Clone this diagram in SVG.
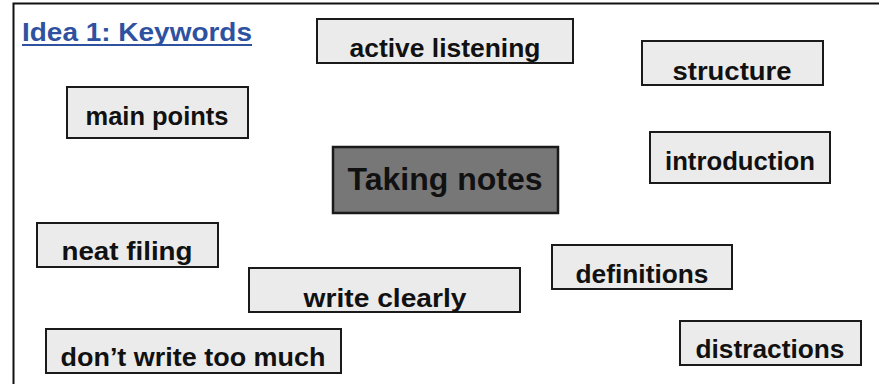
<svg xmlns="http://www.w3.org/2000/svg" width="879" height="384" viewBox="0 0 879 384">
<style>
.box{fill:#ebebeb;stroke:#1a1a1a;stroke-width:2}
.t{font-family:"Liberation Sans",Arial,sans-serif;font-weight:bold;font-size:26px;fill:#111;text-anchor:middle}
.c{fill:#777;stroke:#1a1a1a;stroke-width:2.5}
.ct{font-family:"Liberation Sans",Arial,sans-serif;font-weight:bold;font-size:32px;fill:#111;text-anchor:middle}
.title{font-family:"Liberation Sans",Arial,sans-serif;font-weight:bold;font-size:26px;fill:#2f52a0}
</style>
<rect width="879" height="384" fill="#fff"/>
<path d="M13.5 384 V3.5 H879" fill="none" stroke="#111" stroke-width="2"/>
<g id="title">
<text class="title" x="22" y="41" textLength="230" lengthAdjust="spacingAndGlyphs">Idea 1: Keywords</text>
<rect x="22" y="44" width="230" height="2" fill="#2f52a0"/>
</g>
<g id="connectors"></g>
<g id="active-listening"><rect class="box" x="317" y="19" width="256" height="44"/><text class="t" x="445" y="57" textLength="191" lengthAdjust="spacingAndGlyphs">active listening</text></g>
<g id="structure"><rect class="box" x="642" y="41" width="181" height="44"/><text class="t" x="732" y="80" textLength="119" lengthAdjust="spacingAndGlyphs">structure</text></g>
<g id="main-points"><rect class="box" x="67" y="87" width="181" height="51"/><text class="t" x="157" y="125" textLength="143" lengthAdjust="spacingAndGlyphs">main points</text></g>
<g id="introduction"><rect class="box" x="650" y="132" width="180" height="51"/><text class="t" x="740" y="170" textLength="150" lengthAdjust="spacingAndGlyphs">introduction</text></g>
<g id="taking-notes"><rect class="c" x="333" y="147" width="225" height="66"/><text class="ct" x="445" y="190" textLength="195" lengthAdjust="spacingAndGlyphs">Taking notes</text></g>
<g id="neat-filing"><rect class="box" x="37" y="223" width="181" height="44"/><text class="t" x="127" y="260" textLength="131" lengthAdjust="spacingAndGlyphs">neat filing</text></g>
<g id="definitions"><rect class="box" x="552" y="245" width="180" height="44"/><text class="t" x="642" y="283" textLength="133" lengthAdjust="spacingAndGlyphs">definitions</text></g>
<g id="write-clearly"><rect class="box" x="249" y="268" width="271" height="44"/><text class="t" x="385" y="307" textLength="163" lengthAdjust="spacingAndGlyphs">write clearly</text></g>
<g id="dont-write-too-much"><rect class="box" x="46" y="329" width="295" height="44"/><text class="t" x="193" y="366" textLength="265" lengthAdjust="spacingAndGlyphs">don’t write too much</text></g>
<g id="distractions"><rect class="box" x="680" y="321" width="181" height="44"/><text class="t" x="770" y="358" textLength="149" lengthAdjust="spacingAndGlyphs">distractions</text></g>
</svg>
